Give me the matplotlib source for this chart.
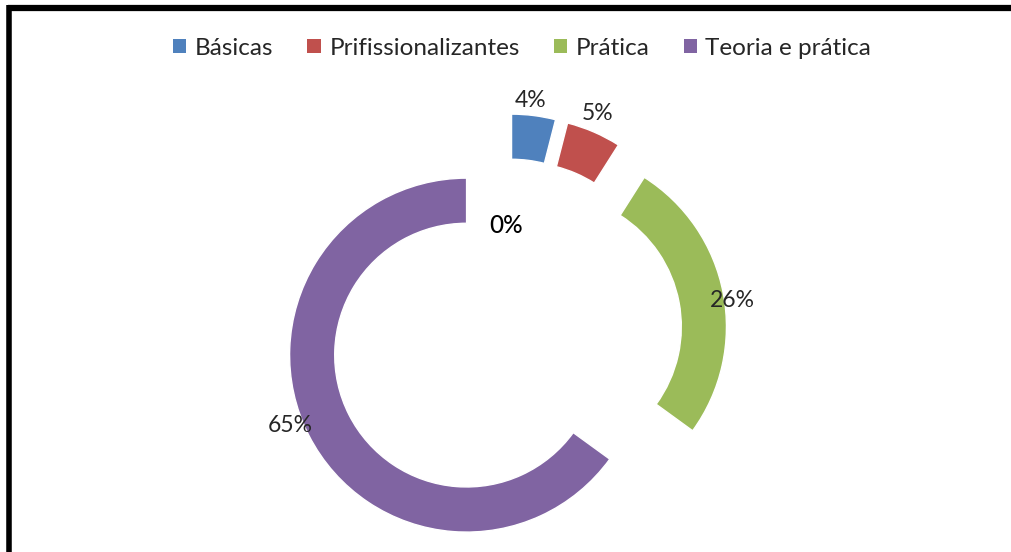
import numpy as np
import matplotlib.pyplot as plt
from matplotlib.lines import Line2D
from matplotlib.patches import Patch

plt.rcParams['font.family'] = ['Lato', 'DejaVu Sans']

categories = ["Básicas", "Prifissionalizantes", "Prática", "Teoria e prática"]
values = [4, 5, 26, 65]
colors = ["#4F81BD", "#C0504D", "#9BBB59", "#8064A2"]
extra_label = "0%"

# small pixel nudges for the data labels (x right, y up)
label_nudge_px = [(-5, 1), (-2, 5), (-5, -10), (-6, 16)]


def main():
    fig = plt.figure(figsize=(10.12, 5.52), dpi=100)
    ax = fig.add_axes([0, 0, 1, 1])

    wedges, texts, autotexts = ax.pie(
        values, colors=colors, startangle=90, counterclock=False,
        explode=[0.25] * len(values), radius=1.0,
        wedgeprops=dict(width=0.255, edgecolor="white", linewidth=1),
        autopct="%.0f%%", pctdistance=1.08,
        textprops=dict(fontsize=16.5, color="#262626"))

    # 1 data unit = 177 px
    for t, (dx, dy) in zip(autotexts, label_nudge_px):
        x, y = t.get_position()
        t.set_position((x + dx / 177, y + dy / 177))

    ax.text(0, 0.62, extra_label, ha="center", va="center",
            fontsize=17.5, color="black", fontweight="medium")

    ax.set_aspect("auto")
    ax.set_xlim(-2.859, 2.859)
    ax.set_ylim(-1.226, 1.893)
    ax.axis("off")

    handles = [Patch(facecolor=c, edgecolor="none") for c in colors]
    fig.legend(handles, categories, loc="center", bbox_to_anchor=(0.516, 0.913),
               ncol=4, frameon=False, fontsize=17.5, handlelength=0.55,
               handleheight=0.55, handletextpad=0.35, columnspacing=1.4,
               labelcolor="#262626")

    # outer frame (top and left edges only are visible)
    fig.add_artist(Line2D([8 / 1012, 1], [1 - 8 / 552, 1 - 8 / 552],
                          transform=fig.transFigure, color="black", lw=4.5,
                          solid_capstyle="butt"))
    fig.add_artist(Line2D([8.5 / 1012, 8.5 / 1012], [0, 1 - 5 / 552],
                          transform=fig.transFigure, color="black", lw=4,
                          solid_capstyle="butt"))

    fig.savefig("out.png", dpi=100)


if __name__ == "__main__":
    main()
